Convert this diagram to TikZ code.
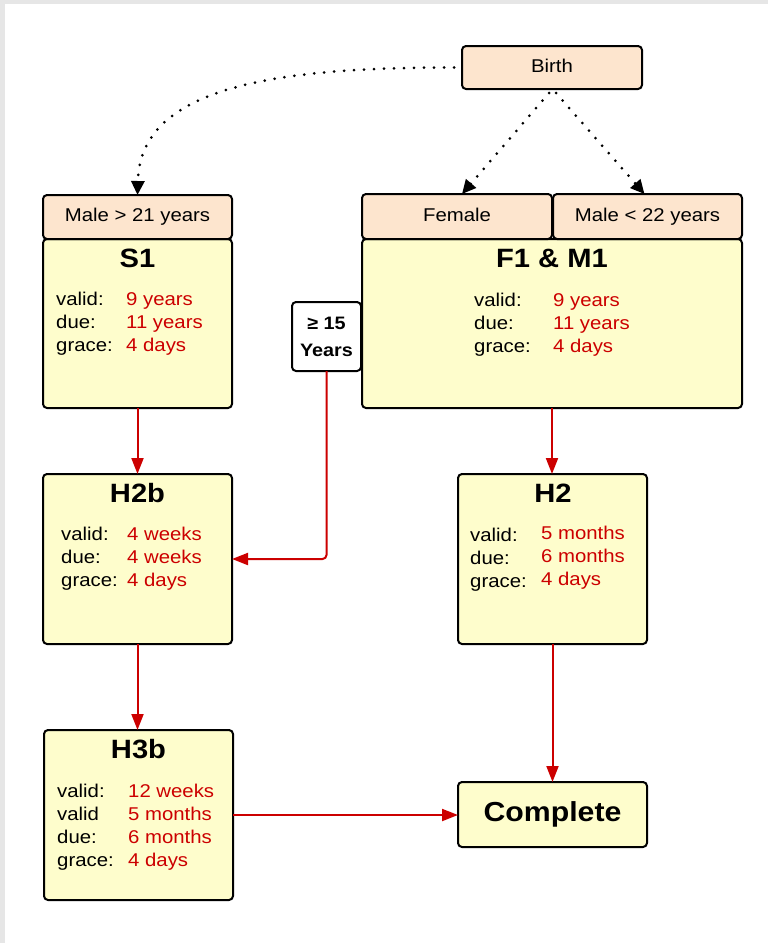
\documentclass[tikz,border=0pt]{standalone}
\usepackage{fontspec}
\setmainfont{Liberation Sans}[FakeStretch=1.1]
\usetikzlibrary{arrows.meta}
\definecolor{peach}{HTML}{FDE5CE}
\definecolor{pale}{HTML}{FEFDCC}
\definecolor{redd}{HTML}{CC0000}
\definecolor{framegrey}{HTML}{E6E6E6}
\tikzset{
  box/.style={draw=black, line width=2pt, rounded corners=4pt, inner sep=0pt, outer sep=0pt},
  hbox/.style={box, fill=peach, font=\fontsize{18.5}{18.5}\selectfont, text height=13pt, text depth=4pt},
  ybox/.style={box, fill=pale},
  lab/.style={anchor=base west, inner sep=0pt, font=\fontsize{18.5}{18.5}\selectfont},
  val/.style={lab, text=redd},
  ttl/.style={anchor=base, inner sep=0pt, font=\bfseries\fontsize{26.5}{26.5}\selectfont},
  redarr/.style={draw=redd, line width=2pt, -{Triangle[length=16pt,width=12pt]}},
  dotarr/.style={line width=3pt, dash pattern=on 0pt off 10pt, line cap=round, -{Triangle[length=14pt,width=13pt]}}
}
\begin{document}
\begin{tikzpicture}[x=1pt,y=-1pt]
\useasboundingbox (0,0) rectangle (768,943);
\fill[framegrey] (0,0) rectangle (768,943);
\fill[white] (5,4) rectangle (768,943);

% boxes
\node[hbox, minimum width=180pt, minimum height=43pt] (birth) at (552,67.5) {Birth};
\node[ybox, minimum width=189pt, minimum height=169pt] (s1) at (137.5,323.5) {};
\node[hbox, minimum width=189pt, minimum height=44pt] (m21) at (137.5,217) {Male > 21 years};
\node[ybox, minimum width=380pt, minimum height=169pt] (f1) at (552,323.5) {};
\node[hbox, minimum width=190pt, minimum height=45pt] (fem) at (457,216.5) {Female};
\node[hbox, minimum width=189pt, minimum height=45pt] (m22) at (647.5,216.5) {Male < 22 years};
\node[box, fill=white, minimum width=69pt, minimum height=69pt, align=center,
      font=\bfseries\fontsize{18}{27}\selectfont] (b15) at (326.5,336.5) {≥ 15\\Years};
\node[ybox, minimum width=189pt, minimum height=170pt] (h2b) at (137.5,559) {};
\node[ybox, minimum width=189pt, minimum height=170pt] (h2) at (552.5,559) {};
\node[ybox, minimum width=189pt, minimum height=170pt] (h3b) at (138.5,815) {};
\node[ybox, minimum width=189pt, minimum height=65pt, font=\bfseries\fontsize{27.5}{27.5}\selectfont] (comp) at (552.5,814.5) {Complete};

% S1 text
\node[ttl] (s1t) at (137.5,267) {S1};
\node[lab] (s1l1) at (56,305) {valid:};
\node[lab] (s1l2) at (56,328) {due:};
\node[lab] (s1l3) at (56,351) {grace:};
\node[val] (s1v1) at (126,305) {9 years};
\node[val] (s1v2) at (126,328) {11 years};
\node[val] (s1v3) at (126,351) {4 days};

% F1 & M1 text
\node[ttl] (f1t) at (552,267) {F1 \& M1};
\node[lab] (f1l1) at (474,306) {valid:};
\node[lab] (f1l2) at (474,329) {due:};
\node[lab] (f1l3) at (474,352) {grace:};
\node[val] (f1v1) at (553,306) {9 years};
\node[val] (f1v2) at (553,329) {11 years};
\node[val] (f1v3) at (553,352) {4 days};

% H2b text
\node[ttl] (h2bt) at (137.5,502) {H2b};
\node[lab] (h2bl1) at (61,540) {valid:};
\node[lab] (h2bl2) at (61,563) {due:};
\node[lab] (h2bl3) at (61,586) {grace:};
\node[val] (h2bv1) at (127,540) {4 weeks};
\node[val] (h2bv2) at (127,563) {4 weeks};
\node[val] (h2bv3) at (127,586) {4 days};

% H2 text
\node[ttl] (h2t) at (553,502) {H2};
\node[lab] (h2l1) at (470,541) {valid:};
\node[lab] (h2l2) at (470,564) {due:};
\node[lab] (h2l3) at (470,587) {grace:};
\node[val] (h2v1) at (541,539) {5 months};
\node[val] (h2v2) at (541,562) {6 months};
\node[val] (h2v3) at (541,585) {4 days};

% H3b text
\node[ttl] (h3bt) at (138.5,758) {H3b};
\node[lab] (h3bl1) at (57,797) {valid:};
\node[lab] (h3bl2) at (57,820) {valid};
\node[lab] (h3bl3) at (57,843) {due:};
\node[lab] (h3bl4) at (57,866) {grace:};
\node[val] (h3bv1) at (128,797) {12 weeks};
\node[val] (h3bv2) at (128,820) {5 months};
\node[val] (h3bv3) at (128,843) {6 months};
\node[val] (h3bv4) at (128,866) {4 days};

% dotted connectors
\draw[dotarr] ([xshift=-8pt]birth.west) .. controls (250,67) and (140,95) .. (m21.north);
\draw[dotarr] ([xshift=-3pt,yshift=-4pt]birth.south) -- ([xshift=5pt]fem.north);
\draw[dotarr] ([xshift=4pt,yshift=-4pt]birth.south) -- ([xshift=-3pt]m22.north);

% red connectors
\draw[redarr] (s1.south) -- (h2b.north);
\draw[redarr] (f1.south) -- (f1.south |- h2.north);
\draw[redarr, rounded corners=4pt] (b15.south) |- (h2b.east);
\draw[redarr] (h2b.south) -- (h2b.south |- h3b.north);
\draw[redarr] (h2.south) -- (comp.north);
\draw[redarr] (h3b.east) -- (h3b.east -| comp.west);
\end{tikzpicture}
\end{document}
